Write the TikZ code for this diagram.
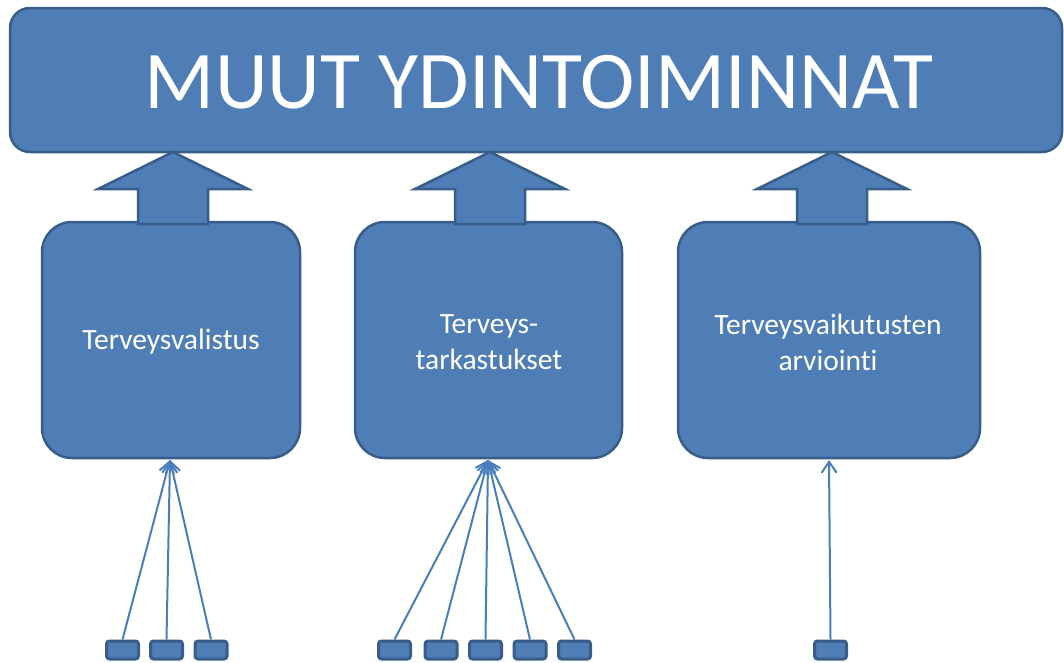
\documentclass[tikz,border=0pt]{standalone}
\usepackage{fontspec}
\setmainfont{Carlito}[Ligatures=NoCommon]
\usetikzlibrary{arrows.meta}
\definecolor{bfill}{HTML}{4F7DB6}
\definecolor{bline}{HTML}{385D8A}
\definecolor{cline}{HTML}{4A7EBB}
\tikzset{
  bigbox/.style={draw=bline,fill=bfill,line width=2.5pt,rounded corners=30pt,inner sep=0pt},
  boxtext/.style={text=white,align=center,inner sep=0pt,font=\fontsize{29.5}{36}\selectfont},
  topbox/.style={draw=bline,fill=bfill,line width=2.5pt,rounded corners=20pt,inner sep=0pt},
  smallbox/.style={draw=bline,fill=bfill,line width=3pt,rounded corners=3pt,minimum width=32pt,minimum height=18pt,inner sep=0pt},
  blockarrow/.style={draw=bline,fill=bfill,line width=2.5pt,line join=miter},
  feed/.style={draw=cline,line width=2pt,-{Straight Barb[length=11pt,width=15pt,line width=2pt]}}
}
\begin{document}
\begin{tikzpicture}[x=1pt,y=-1pt]
\useasboundingbox (0,0) rectangle (1064,662);
% top box
\node[topbox,minimum width=1052pt,minimum height=144pt] (top) at (536,80) {};
\node[text=white,font=\fontsize{82}{90}\selectfont,inner sep=0pt] (toptext) at (539,82) {MUUT YDINTOIMINNAT};
% boxes
\node[bigbox,minimum width=258pt,minimum height=236pt] (b1) at (171,340) {};
\node[bigbox,minimum width=267pt,minimum height=236pt] (b2) at (488.5,340) {};
\node[bigbox,minimum width=302pt,minimum height=236pt] (b3) at (829,340) {};
\node[boxtext] (t1) at (171,342) {Terveysvalistus};
\node[boxtext] (t2) at (489,342) {Terveys-\\tarkastukset};
\node[boxtext] (t3) at (828,342) {Terveysvaikutusten\\arviointi};
% block arrows
\foreach \c in {173,490,832}{
  \draw[blockarrow] (\c-35,224) -- (\c-35,189) -- (\c-75,189) -- (\c,152) -- (\c+75,189) -- (\c+35,189) -- (\c+35,224) -- cycle;
}
% convergence points
\coordinate (p1) at (170,460);
\coordinate (p2) at (488,460);
\coordinate (p3) at (829,460);
% small boxes
\foreach \n/\x in {a/122.5,b/166.5,c/211}{
  \node[smallbox] (s1\n) at (\x,650) {};
  \draw[feed] (s1\n.north) -- (p1);
}
\foreach \n/\x in {a/394.5,b/441,c/485.5,d/530,e/574.5}{
  \node[smallbox] (s2\n) at (\x,650) {};
  \draw[feed] (s2\n.north) -- (p2);
}
\node[smallbox] (s3a) at (830.5,650) {};
\draw[feed] (s3a.north) -- (p3);
\end{tikzpicture}
\end{document}
